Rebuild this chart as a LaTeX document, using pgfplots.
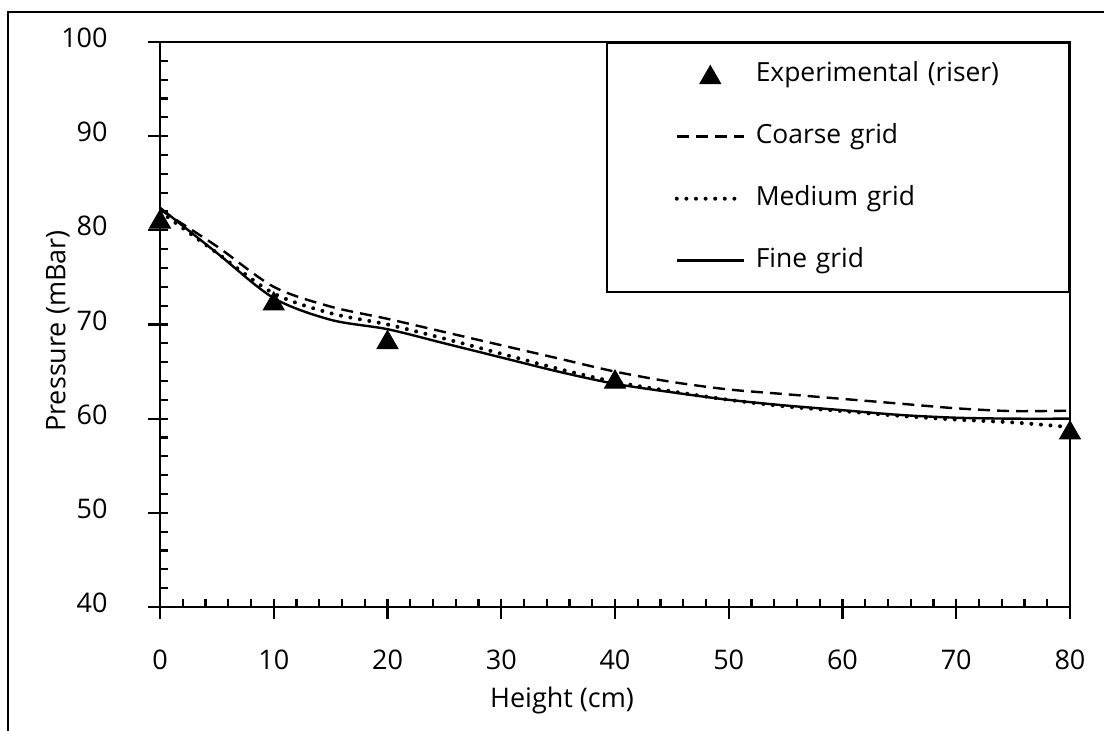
\documentclass[border=0pt]{standalone}
\usepackage{fontspec}
\setmainfont{Open Sans}
\usepackage{pgfplots}
\pgfplotsset{compat=1.18}
\pgfplotsset{
  my line image/.style={legend image code/.code={\draw[##1] (0pt,0pt) -- (33.5pt,0pt);}},
  my mark image/.style={legend image code/.code={\draw[mark repeat=2,mark phase=2,##1] plot coordinates {(0pt,0pt) (16.75pt,0pt) (33.5pt,0pt)};}},
}

\begin{document}
\fontsize{13pt}{15pt}\selectfont
\begin{tikzpicture}
\useasboundingbox (-80pt,-62pt) rectangle (472pt,303.5pt);
% outer frame
\draw[line width=0.8pt] (-76pt,-62pt) -- (-76pt,297.5pt) -- (472pt,297.5pt);
\begin{axis}[
  scale only axis, width=455pt, height=282.5pt,
  xmin=0, xmax=80, ymin=40, ymax=100,
  xtick={0,10,...,80}, ytick={40,50,...,100},
  minor x tick num=4, minor y tick num=4,
  tick pos=left, tick align=center,
  major tick length=10pt, minor tick length=4pt,
  tick style={black, line width=1.1pt},
  major x tick style={yshift=-1pt},
  major y tick style={xshift=-1pt},
  minor x tick style={yshift=2pt},
  minor y tick style={xshift=2pt},
  axis line style={black, line width=1.2pt},
  /pgf/number format/assume math mode=true,
  xticklabel style={anchor=base, inner sep=0pt, yshift=-26.5pt, font=\fontsize{13.5pt}{15pt}\selectfont},
  yticklabel style={anchor=east, inner sep=0pt, xshift=-21pt, yshift=2pt, font=\fontsize{13.5pt}{15pt}\selectfont},
  xlabel={Height (cm)}, ylabel={Pressure (mBar)},
  xlabel style={at={(axis description cs:0.4418,-0.1646)}, anchor=center, font=\fontsize{13.5pt}{15pt}\selectfont},
  ylabel style={at={(axis description cs:-0.1121,0.4885)}, anchor=center, font=\fontsize{13.5pt}{15pt}\selectfont},
  legend cell align=left,
  legend style={at={(rel axis cs:1,1)}, anchor=north east, draw=black, line width=1.2pt, fill=white,
    inner xsep=34pt, inner ysep=9.5pt, row sep=18.5pt,
    nodes={text height=9.5pt, text depth=3pt, inner sep=0pt, text width=122.5pt, align=left, font=\fontsize{13.2pt}{15pt}\selectfont},
    /tikz/every odd column/.append style={column sep=5pt}},
]
% measured pressure along the riser
\addplot[only marks, mark=triangle*, mark size=6pt,
  mark options={fill=black, draw=black, line width=0.5pt, solid, yshift=-1.5pt}, my mark image]
  coordinates {(0,81.2) (10,72.5) (20,68.4) (40,64.2) (80,58.8)};
\addlegendentry{Experimental (riser)}
% coarse mesh
\addplot[black, line width=1.2pt, dash pattern=on 6pt off 3.5pt, smooth, mark=none, my line image]
  coordinates {(0,82.2) (5,78.3) (10,74.0) (15,71.9) (20,70.6) (25,69.2) (30,67.8) (35,66.4)
    (40,65.0) (45,63.9) (50,63.1) (55,62.6) (60,62.1) (65,61.6) (70,61.1) (75,60.8) (80,60.85)};
\addlegendentry{Coarse grid}
% medium mesh
\addplot[black, line width=2pt, line cap=round, dash pattern=on 0pt off 4.8pt, smooth, mark=none, my line image]
  coordinates {(0,82.0) (5,77.6) (10,73.3) (15,71.2) (20,70.0) (25,68.5) (30,66.9) (35,65.3)
    (40,63.9) (45,62.9) (50,62.0) (55,61.3) (60,60.8) (65,60.3) (70,59.9) (75,59.6) (80,59.1)};
\addlegendentry{Medium grid}
% fine mesh
\addplot[black, line width=1.2pt, smooth, mark=none, my line image]
  coordinates {(0,82.4) (5,77.6) (10,72.8) (15,70.5) (20,69.5) (25,68.0) (30,66.5) (35,65.0)
    (40,63.7) (45,62.8) (50,62.0) (55,61.4) (60,60.9) (65,60.4) (70,60.1) (75,60.0) (80,60.0)};
\addlegendentry{Fine grid}
\end{axis}
\end{tikzpicture}
\end{document}
